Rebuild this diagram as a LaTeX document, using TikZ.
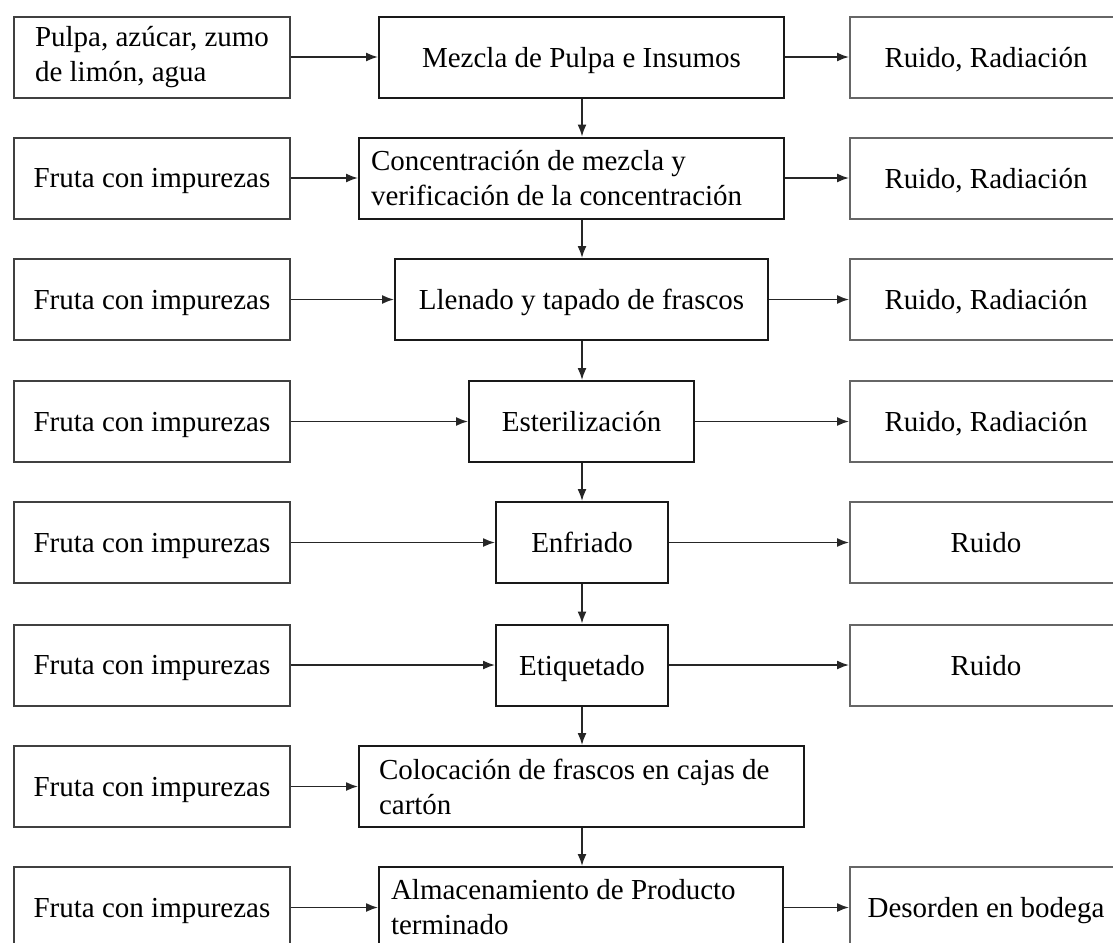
\documentclass[tikz,border=0pt]{standalone}
\usepackage{fontspec}
\setmainfont{Liberation Serif}
\usetikzlibrary{arrows.meta}
\begin{document}
\begin{tikzpicture}[x=0.5pt,y=-0.5pt,
  font=\fontsize{14.5}{17.5}\selectfont,
  box/.style={draw, line width=1pt, minimum height=40.5pt, inner sep=0pt, anchor=center},
  oneline/.style={text depth=0pt},
  procbox/.style={box, draw=black!90},
  inbox/.style={box, draw=black!75, minimum width=138pt},
  outbox/.style={box, oneline, draw=black!60, minimum width=136pt},
  flow/.style={-{Latex[length=6pt,width=4.5pt]}, line width=0.8pt, draw=black!85},
]
% page frame, also cuts the boxes that run past the edges
\clip (0,0) rectangle (1113,942);

% axis of the process column
\coordinate (spine) at (582,0);

% inputs (left column)
\node[inbox, align=flush left] (L1) at (152,57) {Pulpa, azúcar, zumo\\de limón, agua};
\node[inbox, oneline] (L2) at (152,178)   {Fruta con impurezas};
\node[inbox, oneline] (L3) at (152,299.5) {Fruta con impurezas};
\node[inbox, oneline] (L4) at (152,421.5) {Fruta con impurezas};
\node[inbox, oneline] (L5) at (152,542.5) {Fruta con impurezas};
\node[inbox, oneline] (L6) at (152,665)   {Fruta con impurezas};
\node[inbox, oneline] (L7) at (152,786.5) {Fruta con impurezas};
\node[inbox, oneline] (L8) at (152,907.5) {Fruta con impurezas};

% process steps (middle column)
\node[procbox, oneline, minimum width=202.5pt] (M1) at (581.5,57) {Mezcla de Pulpa e Insumos};
\node[procbox, inner xsep=6pt, text width=200.5pt, align=flush left] (M2) at (571.5,178)
  {Concentración de mezcla y\\verificación de la concentración};
\node[procbox, oneline, minimum width=186.5pt] (M3) at (581.5,299.5) {Llenado y tapado de frascos};
\node[procbox, oneline, minimum width=112.5pt] (M4) at (581.5,421.5) {Esterilización};
\node[procbox, oneline, minimum width=86pt] (M5) at (582,542.5) {Enfriado};
\node[procbox, oneline, minimum width=86pt] (M6) at (582,665) {Etiquetado};
\node[procbox, inner xsep=10pt, text width=202.5pt, align=flush left] (M7) at (581.5,786.5)
  {Colocación de frascos en cajas de\\cartón};
\node[procbox, inner xsep=6pt, text width=190pt, align=flush left] (M8) at (581,907.5)
  {Almacenamiento de Producto\\terminado};

% outputs (right column)
\node[outbox] (R1) at (986,57)    {Ruido, Radiación};
\node[outbox] (R2) at (986,178)   {Ruido, Radiación};
\node[outbox] (R3) at (986,299.5) {Ruido, Radiación};
\node[outbox] (R4) at (986,421.5) {Ruido, Radiación};
\node[outbox] (R5) at (986,542.5) {Ruido};
\node[outbox] (R6) at (986,665)   {Ruido};
\node[outbox] (R8) at (986,907.5) {Desorden en bodega};

% inputs into each step
\foreach \i in {1,...,8} {
  \draw[flow] (L\i.east) -- (M\i.west);
}
% outputs of each step
\foreach \i in {1,...,6,8} {
  \draw[flow] (M\i.east) -- (R\i.west);
}
% sequence of steps
\foreach \i [evaluate=\i as \j using int(\i+1)] in {1,...,7} {
  \draw[flow] (M\i.south -| spine) -- (M\j.north -| spine);
}
\end{tikzpicture}
\end{document}
